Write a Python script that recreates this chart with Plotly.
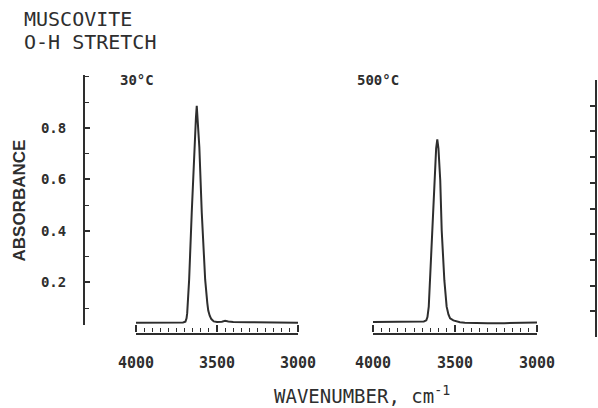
import plotly.graph_objects as go

# ---- data ----
wn_30 = [4000, 3900, 3800, 3750, 3710, 3695, 3688, 3684, 3672, 3656, 3640, 3630, 3625,
         3620, 3609, 3594, 3584, 3573, 3560, 3554, 3545, 3535, 3520, 3500, 3470, 3450,
         3430, 3400, 3300, 3200, 3100, 3000]
abs_30 = [0.043, 0.043, 0.043, 0.043, 0.044, 0.047, 0.06, 0.08, 0.21, 0.47, 0.725, 0.84, 0.885,
          0.84, 0.725, 0.47, 0.34, 0.21, 0.12, 0.09, 0.07, 0.057, 0.048, 0.046, 0.047, 0.05,
          0.048, 0.046, 0.045, 0.044, 0.043, 0.043]

wn_500 = [4000, 3900, 3800, 3720, 3690, 3675, 3668, 3660, 3652, 3638, 3626, 3615, 3608,
          3601, 3590, 3581, 3565, 3551, 3540, 3530, 3510, 3490, 3470, 3440, 3400, 3300,
          3200, 3100, 3000]
abs_500 = [0.046, 0.046, 0.046, 0.047, 0.048, 0.052, 0.065, 0.105, 0.208, 0.40, 0.596, 0.72, 0.755,
           0.72, 0.596, 0.40, 0.208, 0.105, 0.075, 0.06, 0.052, 0.048, 0.045, 0.043, 0.042, 0.041,
           0.041, 0.042, 0.044]

panel_labels = ["30°C", "500°C"]
x_major = [4000, 3500, 3000]
x_minor = list(range(3000, 4001, 50))
y_ticks = [0.2, 0.4, 0.6, 0.8]

# ---- layout geometry (pixels) ----
W, H = 598, 408
L, R, T, B = 84, 2, 75, 71
PW, PH = W - L - R, H - T - B


def px(x):
    return (x - L) / PW


def py(y):
    return (H - B - y) / PH


def val(y):  # absorbance at pixel row y (for axis ranges)
    return (333.75 - y) / 257.5


ink = "#2e2e2e"
mono = "DejaVu Sans Mono"
dom1 = [px(136), px(298)]
dom2 = [px(373), px(537)]

fig = go.Figure()
fig.add_trace(go.Scatter(x=wn_30, y=abs_30, xaxis="x", yaxis="y", mode="lines",
                         line=dict(color=ink, width=2), showlegend=False, hoverinfo="skip"))
fig.add_trace(go.Scatter(x=wn_500, y=abs_500, xaxis="x2", yaxis="y", mode="lines",
                         line=dict(color=ink, width=2), showlegend=False, hoverinfo="skip"))
# empty carriers so that the frame-only axes get drawn
for xa, ya in (("x", "y3"), ("x2", "y3"), ("x3", "y4"), ("x4", "y4"),
               ("x5", "y4"), ("x6", "y4"), ("x2", "y2")):
    fig.add_trace(go.Scatter(x=[None], y=[None], xaxis=xa, yaxis=ya, mode="lines",
                             showlegend=False, hoverinfo="skip"))

# label axes: line + labels at the 500s (no ticks)
xlab = dict(
    range=[4000, 3000], tickmode="array", tickvals=x_major,
    ticktext=[str(v) for v in x_major], ticks="",
    showline=True, linecolor=ink, linewidth=2, showgrid=False, zeroline=False,
    anchor="y3", side="bottom", automargin=False,
    tickfont=dict(family=mono, size=15, color=ink, weight="bold"),
    ticklabelstandoff=15,
)
# tick axes: sit on the same line, ticks pointing up
xtick_minor = dict(
    range=[4000, 3000], tickmode="array", tickvals=x_minor, showticklabels=False,
    ticks="outside", ticklen=4, tickwidth=1.3, tickcolor=ink,
    showline=False, showgrid=False, zeroline=False,
    anchor="y4", side="top", automargin=False,
)
xtick_major = dict(
    range=[4000, 3000], tickmode="array", tickvals=x_major, showticklabels=False,
    ticks="outside", ticklen=7, tickwidth=1.5, tickcolor=ink,
    showline=False, showgrid=False, zeroline=False,
    anchor="y4", side="top", automargin=False,
)

fig.update_layout(
    width=W, height=H,
    margin=dict(l=L, r=R, t=T, b=B, pad=0, autoexpand=False),
    paper_bgcolor="white", plot_bgcolor="rgba(0,0,0,0)",
    xaxis=dict(domain=dom1, **xlab),
    xaxis2=dict(domain=dom2, **xlab),
    xaxis3=dict(domain=dom1, **xtick_minor),
    xaxis4=dict(domain=dom2, **xtick_minor),
    xaxis5=dict(domain=dom1, **xtick_major),
    xaxis6=dict(domain=dom2, **xtick_major),
    yaxis=dict(
        domain=[py(325), 1], range=[val(325), val(75)],
        anchor="free", position=0, automargin=False,
        tickvals=y_ticks, tickformat=".1f",
        ticks="inside", ticklen=5, tickwidth=1.5, tickcolor=ink,
        minor=dict(dtick=0.1, tick0=0, ticks="inside", ticklen=4, tickwidth=1.2, tickcolor=ink),
        showline=True, linecolor=ink, linewidth=2, showgrid=False, zeroline=False,
        tickfont=dict(family=mono, size=14, color=ink, weight="bold"),
        ticklabelstandoff=14,
    ),
    yaxis3=dict(
        domain=[py(333), 1], range=[val(333), val(75)], visible=False,
        anchor="free", position=0, automargin=False, showgrid=False, zeroline=False,
    ),
    yaxis4=dict(
        domain=[0, py(333)], range=[0, 1], visible=False,
        anchor="free", position=0, automargin=False, showgrid=False, zeroline=False,
    ),
    yaxis2=dict(
        domain=[0, py(80)], range=[0, 1.0], side="right",
        anchor="free", position=1, automargin=False,
        showticklabels=False, tick0=0, dtick=0.1,
        ticks="inside", ticklen=5, tickwidth=1.5, tickcolor=ink,
        showline=True, linecolor=ink, linewidth=2, showgrid=False, zeroline=False,
    ),
)

ann = [
    dict(text="MUSCOVITE", x=px(22), y=py(19), xanchor="left", yanchor="middle",
         font=dict(family=mono, size=20, color=ink)),
    dict(text="O-H STRETCH", x=px(22), y=py(42), xanchor="left", yanchor="middle",
         font=dict(family=mono, size=20, color=ink)),
    dict(text="ABSORBANCE", x=px(18.5), y=py(201), xanchor="center", yanchor="middle",
         textangle=-90, font=dict(family="Liberation Sans", size=17, color=ink, weight="bold")),
    dict(text=panel_labels[0], x=px(136.5), y=py(80), xanchor="center", yanchor="middle",
         font=dict(family=mono, size=14, color=ink, weight="bold")),
    dict(text=panel_labels[1], x=px(377.5), y=py(80), xanchor="center", yanchor="middle",
         font=dict(family=mono, size=14, color=ink, weight="bold")),
    dict(text="WAVENUMBER, cm<sup>-1</sup>", x=px(362), y=py(395), xanchor="center",
         yanchor="middle", font=dict(family=mono, size=19, color=ink)),
]
for a in ann:
    a.update(xref="paper", yref="paper", showarrow=False)
fig.update_layout(annotations=ann)

fig.write_html("out.html")
